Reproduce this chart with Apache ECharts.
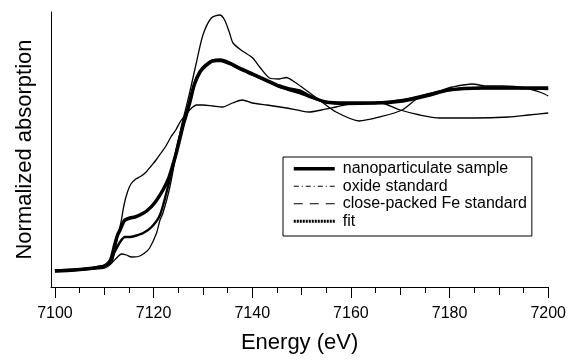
<!DOCTYPE html>
<html>
<head>
<meta charset="utf-8">
<script src="https://cdn.jsdelivr.net/npm/echarts@6/dist/echarts.min.js"></script>
<style>
html,body{margin:0;padding:0;background:#fff;}
#chart{width:569px;height:362px;}
</style>
</head>
<body>
<div id="chart"></div>
<script>
// ---- data (energy in eV, normalized absorption in arbitrary units) ----
const seriesNames = ['nanoparticulate sample', 'oxide standard', 'close-packed Fe standard', 'fit'];

const sampleE = [7100,7104,7108,7110,7111,7111.5,7112.1,7112.7,7113.2,7113.8,7114.2,7115.2,7116.2,7117.2,7118.6,7120.2,7121.9,7123,7123.9,7124.6,7125.4,7126.1,7126.6,7127.3,7128.3,7129.4,7130.5,7131.9,7133.6,7135.4,7137.4,7140.1,7142.8,7145.5,7147.5,7149.6,7151.6,7154.9,7159,7164.8,7170.5,7176,7179.8,7186.5,7193.5,7200];
const sampleY = [16,17,19,21,25,30,42,52,57,64,67,69,70,72,76,84,97,108,122,134,150,164,172,184,203,215,221,226,227,224,219,213,207,201,198,196,191,185,184,184,186,192,197,199,199,199];

const oxideE = [7100,7104,7108,7110,7111.1,7112.5,7113.5,7114.5,7115.5,7116.9,7118.2,7119.2,7120.6,7121.3,7121.9,7123.3,7124.6,7125.6,7126.3,7127.2,7128.7,7130,7131.7,7133.4,7134.4,7135.4,7136.1,7138,7140.1,7141.5,7143.5,7145.5,7146.9,7148.6,7150.3,7153.6,7157,7161.7,7165.8,7170.4,7173.9,7178.5,7180.6,7184.6,7187.4,7190.7,7195.5,7198.8,7200];
const oxideY = [17,17,18,19,22,29,33,32,30,30.5,34,39,54,67,74,100,134,160,174,192,225,252,269,272,267,254,244,236,229,220,209,208,209.5,205,199,187,175,166,170,177,190,197,200,203,201,201,199,194,191];

const feE = [7100,7104,7107,7109,7110.5,7111.5,7112.1,7112.7,7113.4,7114,7114.7,7115.4,7116.4,7117.5,7118.5,7119.5,7120.5,7121.5,7122.5,7123.5,7124.5,7125.5,7126.5,7127.5,7128.7,7130,7132,7134,7136,7138,7140,7143,7147,7151.5,7154,7157,7161,7166,7170,7174,7178,7185,7192,7196,7200];
const feY = [17,18,19,21,22,24,35,50,65,82,95,103,108,111,115,121,127,134,141,150,157,166,172,178,182,182,181,180,184,187,184,182,179,175,177,180,184,184,177,172,169,169,170,172,174];

const fitE = [7100,7104,7108,7110,7111,7112,7113.2,7114.2,7115.2,7116.2,7117.9,7119.6,7121.3,7122.9,7123.9,7125,7126.1,7126.6,7127.3,7128.3,7129.4,7130.5,7131.9,7133.6,7135.4,7137.4,7140.1,7142.8,7145.5,7147.5,7149.6,7151.6,7154.9,7159,7164.8,7170.5,7176,7179.8,7186.5,7193.5,7200];
const fitY = [16,17,19,21,24,34,45,50,50,51,54,60,72,100,120,145,164,172,185,204,216,222,226,226,223,218,212,206,200,197,194,190,185,183,184,187,193,197,199,199,198];

const majorTicks = [7100,7120,7140,7160,7180,7200];
const midTicks = [7110,7130,7150,7170,7190];
const minorTicks = [7105,7115,7125,7135,7145,7155,7165,7175,7185,7195];

// ---- chart ----
const FONT = "'Liberation Sans', Arial, Helvetica, sans-serif";
const zip = (xs, ys) => xs.map((x, i) => [x, ys[i]]);
const XMIN = 7099.2, XMAX = 7200;
const NOSYM = { color: 'rgba(0,0,0,0)', borderColor: 'rgba(0,0,0,0)', borderWidth: 0, opacity: 0 };

const tickAxis = (vals, len) => ({
  type: 'value', min: XMIN, max: XMAX, gridIndex: 0, position: 'bottom',
  axisLine: { show: false },
  axisTick: { show: true, inside: false, length: len, customValues: vals, lineStyle: { color: '#000', width: 1 } },
  axisLabel: { show: false },
  splitLine: { show: false }
});

const chart = echarts.init(document.getElementById('chart'), null, { renderer: 'canvas' });
chart.setOption({
  animation: false,
  backgroundColor: '#fff',
  textStyle: { fontFamily: FONT },
  grid: { left: 51, right: 20, top: 12, bottom: 75, containLabel: false },
  xAxis: [
    {
      type: 'value', min: XMIN, max: XMAX, position: 'bottom',
      name: 'Energy (eV)', nameLocation: 'middle', nameGap: 45,
      nameTextStyle: { fontSize: 22, color: '#000', fontFamily: FONT },
      axisLine: { show: true, onZero: false, lineStyle: { color: '#000', width: 1 } },
      axisTick: { show: true, length: 11, customValues: majorTicks, lineStyle: { color: '#000', width: 1 } },
      axisLabel: { show: true, customValues: majorTicks, margin: 19, fontSize: 16, color: '#000', fontFamily: FONT,
                   formatter: v => String(Math.round(v)) },
      splitLine: { show: false }
    },
    tickAxis(midTicks, 8),
    tickAxis(minorTicks, 6)
  ],
  yAxis: {
    type: 'value', min: 0, max: 275,
    name: 'Normalized absorption', nameLocation: 'middle', nameGap: 15, nameRotate: 90,
    nameTextStyle: { fontSize: 22, color: '#000', fontFamily: FONT },
    axisLine: { show: true, lineStyle: { color: '#000', width: 1 } },
    axisTick: { show: false },
    axisLabel: { show: false },
    splitLine: { show: false }
  },
  legend: {
    orient: 'vertical', left: 283, top: 157,
    backgroundColor: '#fff',
    borderColor: '#000', borderWidth: 1,
    padding: [3, 5, 6, 9],
    itemWidth: 41, itemHeight: 14, itemGap: 0,
    selectedMode: false,
    itemStyle: NOSYM,
    textStyle: { fontSize: 16, lineHeight: 17.5, color: '#000', fontFamily: FONT, padding: [0, 0, 0, 3] },
    data: [
      { name: seriesNames[0], itemStyle: NOSYM, lineStyle: { type: 'solid', width: 3.5, color: '#000' } },
      { name: seriesNames[1], itemStyle: NOSYM, lineStyle: { type: [5, 3, 1, 3], width: 1, color: '#000' } },
      { name: seriesNames[2], itemStyle: NOSYM, lineStyle: { type: [9, 7], width: 1.2, color: '#000' } },
      { name: seriesNames[3], itemStyle: NOSYM, lineStyle: { type: [2, 1], width: 3, color: '#000' } }
    ]
  },
  series: [
    {
      name: seriesNames[1], type: 'line', data: zip(oxideE, oxideY),
      symbol: 'none', smooth: 0.25, lineStyle: { color: '#000', width: 1.3 }, itemStyle: { color: '#000' }, z: 2
    },
    {
      name: seriesNames[2], type: 'line', data: zip(feE, feY),
      symbol: 'none', smooth: 0.25, lineStyle: { color: '#000', width: 1.3 }, itemStyle: { color: '#000' }, z: 2
    },
    {
      name: seriesNames[0], type: 'line', data: zip(sampleE, sampleY),
      symbol: 'none', smooth: 0.25, lineStyle: { color: '#000', width: 3.5 }, itemStyle: { color: '#000' }, z: 3
    },
    {
      name: seriesNames[3], type: 'line', data: zip(fitE, fitY),
      symbol: 'none', smooth: 0.25, lineStyle: { color: '#000', width: 2.4 }, itemStyle: { color: '#000' }, z: 4
    }
  ]
});
</script>
</body>
</html>
